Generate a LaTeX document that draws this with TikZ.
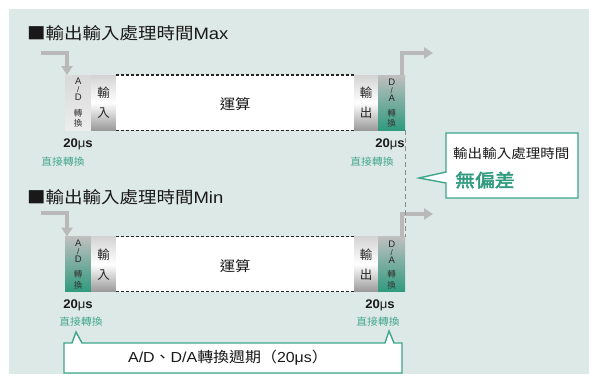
\documentclass[tikz,border=0pt]{standalone}
\usepackage{fontspec}
\setmainfont{Liberation Sans}
\newfontfamily\cjk{Noto Sans CJK TC}
\newfontfamily\cjkb[FakeBold=2.5]{Noto Sans CJK TC}
\usetikzlibrary{arrows.meta}
\definecolor{bgc}{HTML}{DDE9E6}
\definecolor{tealc}{HTML}{3DA68A}
\definecolor{tealt}{HTML}{45A88E}
\definecolor{tealb}{HTML}{2F9A7E}
\definecolor{garrow}{HTML}{B9B9B9}
\definecolor{gdash}{HTML}{8A8A8A}
\newcommand{\vslash}{{\fontsize{8}{8}\selectfont /}}
\begin{document}
\begin{tikzpicture}[x=1pt,y=-1pt,
  blockbase/.style={anchor=north west, inner sep=0, minimum height=55pt, draw=none},
  grayblk/.style={blockbase, top color=black!17, bottom color=black!40, middle color=white},
  lightblk/.style={blockbase, top color=black!15, bottom color=black!7},
  greenblk/.style={blockbase, top color=black!25, bottom color=tealb},
  calcblk/.style={blockbase, fill=white},
  blkdash/.style={draw=black!85, line width=1.1pt, dash pattern=on 3pt off 2pt},
  vlat/.style={inner sep=0, align=center, font=\fontsize{9.5}{8}\selectfont, text=black!85},
  vsmall/.style={inner sep=0, align=center, font={\cjk\fontsize{8.5}{10.5}\selectfont}, text=black!80},
  vcjk/.style={inner sep=0, align=center, font={\cjk\fontsize{12.5}{20}\selectfont}, text=black!85},
  title/.style={inner sep=0, anchor=west, xscale=1.12, font={\fontsize{16.5}{18}\selectfont}, text=black!90},
  calctxt/.style={inner sep=0, xscale=1.1, font={\cjk\fontsize{14}{16}\selectfont}, text=black!90},
  timelbl/.style={inner sep=0, xscale=1.05, font={\fontsize{12.5}{14}\selectfont\bfseries}, text=black!90},
  convlbl/.style={inner sep=0, xscale=1.08, font={\cjk\fontsize{10}{12}\selectfont}, text=tealt},
  garr/.style={draw=garrow, line width=4pt, -{Triangle[width=11pt,length=9pt]}},
  vdash/.style={draw=gdash, line width=1.3pt, dash pattern=on 5pt off 3pt},
  callout/.style={draw=tealc, line width=1.4pt, fill=white, line join=miter}
]
\useasboundingbox (0,0) rectangle (589,376);
\fill[bgc] (9,9) rectangle (589,374);

% ---------------- Max row ----------------
\node[title] (t1) at (27,33) {{\cjk ■輸出輸入處理時間}Max};

\node[lightblk, minimum width=26pt] (ad1) at (65,75) {};
\node[grayblk, minimum width=25pt] (in1) at (91,75) {};
\node[calcblk, minimum width=238pt] (calc1) at (116,75) {};
\node[grayblk, minimum width=24pt] (out1) at (354,75) {};
\node[greenblk, minimum width=27pt] (da1) at (378,75) {};
\draw[blkdash] (calc1.north west) -- (calc1.north east);
\draw[blkdash] (calc1.south west) -- (calc1.south east);

\node[vlat, anchor=north] (ad1a) at ([yshift=-3pt]ad1.north) {A\\\vslash\\D};
\node[vsmall, anchor=south] (ad1b) at ([yshift=3pt]ad1.south) {轉\\換};
\node[vcjk] (in1t) at (in1.center) {輸\\入};
\node[calctxt] (calc1t) at ([yshift=-1.5pt]calc1.center) {運算};
\node[vcjk] (out1t) at (out1.center) {輸\\出};
\node[vlat, anchor=north] (da1a) at ([yshift=-4pt]da1.north) {D\\\vslash\\A};
\node[vsmall, anchor=south] (da1b) at ([yshift=3pt]da1.south) {轉\\換};

\node[timelbl] (l1a) at (78,144) {20{\mdseries μ}s};
\node[convlbl] (l1b) at (63,162) {直接轉換};
\node[timelbl] (l1c) at (390,144) {20{\mdseries μ}s};
\node[convlbl] (l1d) at (372,162) {直接轉換};

\coordinate (s1) at (41,53);
\coordinate (e1) at (433,53);
\draw[garr] (s1) -| ([xshift=2pt]ad1.north west);
\draw[garr] ([xshift=-3pt]da1.north east) |- (e1);

% ---------------- Min row ----------------
\node[title] (t2) at (27,197) {{\cjk ■輸出輸入處理時間}Min};

\node[greenblk, minimum width=26pt] (ad2) at (65,236.5) {};
\node[grayblk, minimum width=25pt] (in2) at (91,236.5) {};
\node[calcblk, minimum width=238pt] (calc2) at (116,236.5) {};
\node[grayblk, minimum width=24pt] (out2) at (354,236.5) {};
\node[greenblk, minimum width=27pt] (da2) at (378,236.5) {};
\draw[blkdash] (calc2.north west) -- (calc2.north east);
\draw[blkdash] (calc2.south west) -- (calc2.south east);

\node[vlat, anchor=north] (ad2a) at ([yshift=-3pt]ad2.north) {A\\\vslash\\D};
\node[vsmall, anchor=south] (ad2b) at ([yshift=3pt]ad2.south) {轉\\換};
\node[vcjk] (in2t) at (in2.center) {輸\\入};
\node[calctxt] (calc2t) at ([yshift=-1.5pt]calc2.center) {運算};
\node[vcjk] (out2t) at (out2.center) {輸\\出};
\node[vlat, anchor=north] (da2a) at ([yshift=-4pt]da2.north) {D\\\vslash\\A};
\node[vsmall, anchor=south] (da2b) at ([yshift=3pt]da2.south) {轉\\換};

\node[timelbl] (l2a) at (78,305) {20{\mdseries μ}s};
\node[convlbl] (l2b) at (81,322) {直接轉換};
\node[timelbl] (l2c) at (380,305) {20{\mdseries μ}s};
\node[convlbl] (l2d) at (378,322) {直接轉換};

\coordinate (s2) at (41,213);
\coordinate (e2) at (433,214);
\draw[garr] (s2) -| ([xshift=2pt]ad2.north west);
\draw[garr] ([xshift=-3pt]da2.north east) |- (e2);

% dashed link between the two D/A ends
\draw[vdash] (da1.south east) -- (da2.north east);

% ---------------- right callout ----------------
\draw[callout] (446,133) -- (578,133) -- (578,198) -- (446,198) -- (446,183) -- (419,178) -- (446,172) -- cycle;
\node[inner sep=0, anchor=west, xscale=1.1, font={\cjk\fontsize{13.2}{15}\selectfont}, text=black!90] (c1) at (453,153) {輸出輸入處理時間};
\node[inner sep=0, anchor=west, xscale=1.1, font={\cjkb\fontsize{18}{20}\selectfont}, text=tealb] (c2) at (455,180) {無偏差};

% ---------------- bottom callout ----------------
\draw[callout] (64,343) -- (72,343) -- (76,332) -- (82,343) -- (385,343) -- (389,331) -- (394,343) -- (402,343) -- (402,373) -- (64,373) -- cycle;
\node[inner sep=0, xscale=1.1, font={\fontsize{14.5}{16}\selectfont}, text=black!90] (c3) at (228,358) {A/D{\cjk 、}D/A{\cjk 轉換週期（}20μs{\cjk ）}};
\end{tikzpicture}
\end{document}
